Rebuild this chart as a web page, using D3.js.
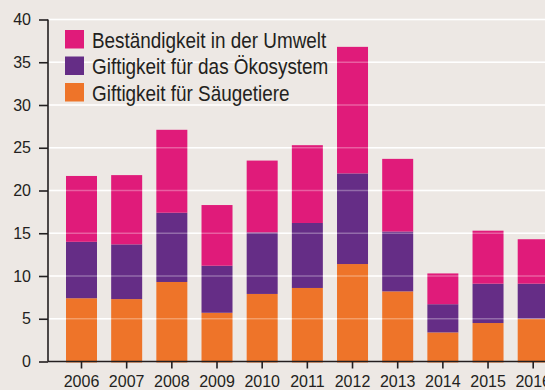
<!DOCTYPE html>
<html>
<head>
<meta charset="utf-8">
<script src="https://cdn.jsdelivr.net/npm/d3@7/dist/d3.min.js"></script>
<style>
  html, body { margin: 0; padding: 0; background: #ede8e4; }
  svg { display: block; }
  .tick-label { font-family: "Liberation Sans", Arial, sans-serif; font-size: 16px; fill: #231f20; }
  .legend-label { font-family: "Liberation Sans", Arial, sans-serif; font-size: 22px; fill: #231f20; }
</style>
</head>
<body>
<svg id="chart" width="545" height="390"></svg>
<script>
// Years on the x axis
const years = ["2006", "2007", "2008", "2009", "2010", "2011", "2012", "2013", "2014", "2015", "2016"];

// Series values, stacked bottom to top
const saeugetiere = [7.4, 7.3, 9.3, 5.7, 7.9, 8.6, 11.4, 8.2, 3.4, 4.5, 5.0];
const oekosystem  = [6.6, 6.4, 8.1, 5.5, 7.2, 7.6, 10.6, 7.0, 3.3, 4.6, 4.1];
const umwelt      = [7.7, 8.1, 9.7, 7.1, 8.4, 9.1, 14.8, 8.5, 3.6, 6.2, 5.2];

// Series names and colours (stack order)
const seriesKeys   = ["saeugetiere", "oekosystem", "umwelt"];
const seriesNames  = ["Giftigkeit für Säugetiere", "Giftigkeit für das Ökosystem", "Beständigkeit in der Umwelt"];
const seriesColors = ["#ee7429", "#652d86", "#e01b7a"];

// Y axis ticks
const yTicks = [0, 5, 10, 15, 20, 25, 30, 35, 40];

const rows = years.map((y, i) => ({
  year: y,
  saeugetiere: saeugetiere[i],
  oekosystem: oekosystem[i],
  umwelt: umwelt[i]
}));

const svg = d3.select("#chart");

const axisX = 48;
const step = 45.17;
const pad = 14.17 / step;
const x = d3.scaleBand()
  .domain(years)
  .range([66 - step * pad / 2, 66 - step * pad / 2 + step * years.length])
  .paddingInner(pad)
  .paddingOuter(pad / 2);

const y = d3.scaleLinear().domain([0, 40]).range([361.5, 19.5]);

const stack = d3.stack().keys(seriesKeys)(rows);
const color = d3.scaleOrdinal().domain(seriesKeys).range(seriesColors);

// gridlines beneath the bars
svg.append("g").selectAll("line")
  .data(yTicks.filter(t => t > 0))
  .join("line")
  .attr("x1", axisX).attr("x2", 545)
  .attr("y1", d => y(d)).attr("y2", d => y(d))
  .attr("stroke", "#ffffff").attr("stroke-width", 1.6);

// stacked bars
svg.append("g").selectAll("g")
  .data(stack)
  .join("g")
  .attr("fill", d => color(d.key))
  .selectAll("rect")
  .data(d => d)
  .join("rect")
  .attr("x", d => x(d.data.year))
  .attr("width", x.bandwidth())
  .attr("y", d => y(d[1]))
  .attr("height", d => y(d[0]) - y(d[1]) + (d[0] === 0 ? 1 : 0));

// faint gridlines over the bars
svg.append("g").selectAll("line")
  .data(yTicks.filter(t => t > 0))
  .join("line")
  .attr("x1", axisX).attr("x2", 545)
  .attr("y1", d => y(d)).attr("y2", d => y(d))
  .attr("stroke", "#ffffff").attr("stroke-width", 1.6)
  .attr("stroke-opacity", 0.3);

// Y axis
const yAxis = d3.axisLeft(y).tickValues(yTicks).tickSize(9).tickPadding(8).tickFormat(d3.format("d"));
const gy = svg.append("g").attr("transform", `translate(${axisX},0)`).call(yAxis);
gy.attr("font-size", null).attr("font-family", null);
gy.select(".domain").attr("stroke", "#231f20").attr("stroke-width", 1.6).attr("d", `M0,${y(40)}V${y(0)}`);
gy.selectAll(".tick line").attr("stroke", "#231f20").attr("stroke-width", 1.6);
gy.selectAll(".tick text").attr("class", "tick-label").attr("fill", null);

// X axis
const xAxis = d3.axisBottom(x).tickSize(7).tickPadding(7);
const gx = svg.append("g").attr("transform", `translate(0,${y(0)})`).call(xAxis);
gx.attr("font-size", null).attr("font-family", null);
gx.select(".domain").attr("stroke", "#231f20").attr("stroke-width", 1.6).attr("d", `M${axisX},0H545`);
gx.selectAll(".tick line").attr("stroke", "#231f20").attr("stroke-width", 1.6);
gx.selectAll(".tick text").attr("class", "tick-label").attr("fill", null);

// Legend (top entry is the top of the stack), set in a narrowed face
const legendOrder = [2, 1, 0];
const lg = svg.append("g");
legendOrder.forEach((si, row) => {
  const yy = 30 + row * 26.5;
  lg.append("rect")
    .attr("x", 65).attr("y", yy)
    .attr("width", 19).attr("height", 18.5)
    .attr("fill", seriesColors[si]);
  lg.append("text")
    .attr("class", "legend-label")
    .attr("transform", `translate(92,${yy + 17.5}) scale(0.86,1)`)
    .text(seriesNames[si]);
});
</script>
</body>
</html>
